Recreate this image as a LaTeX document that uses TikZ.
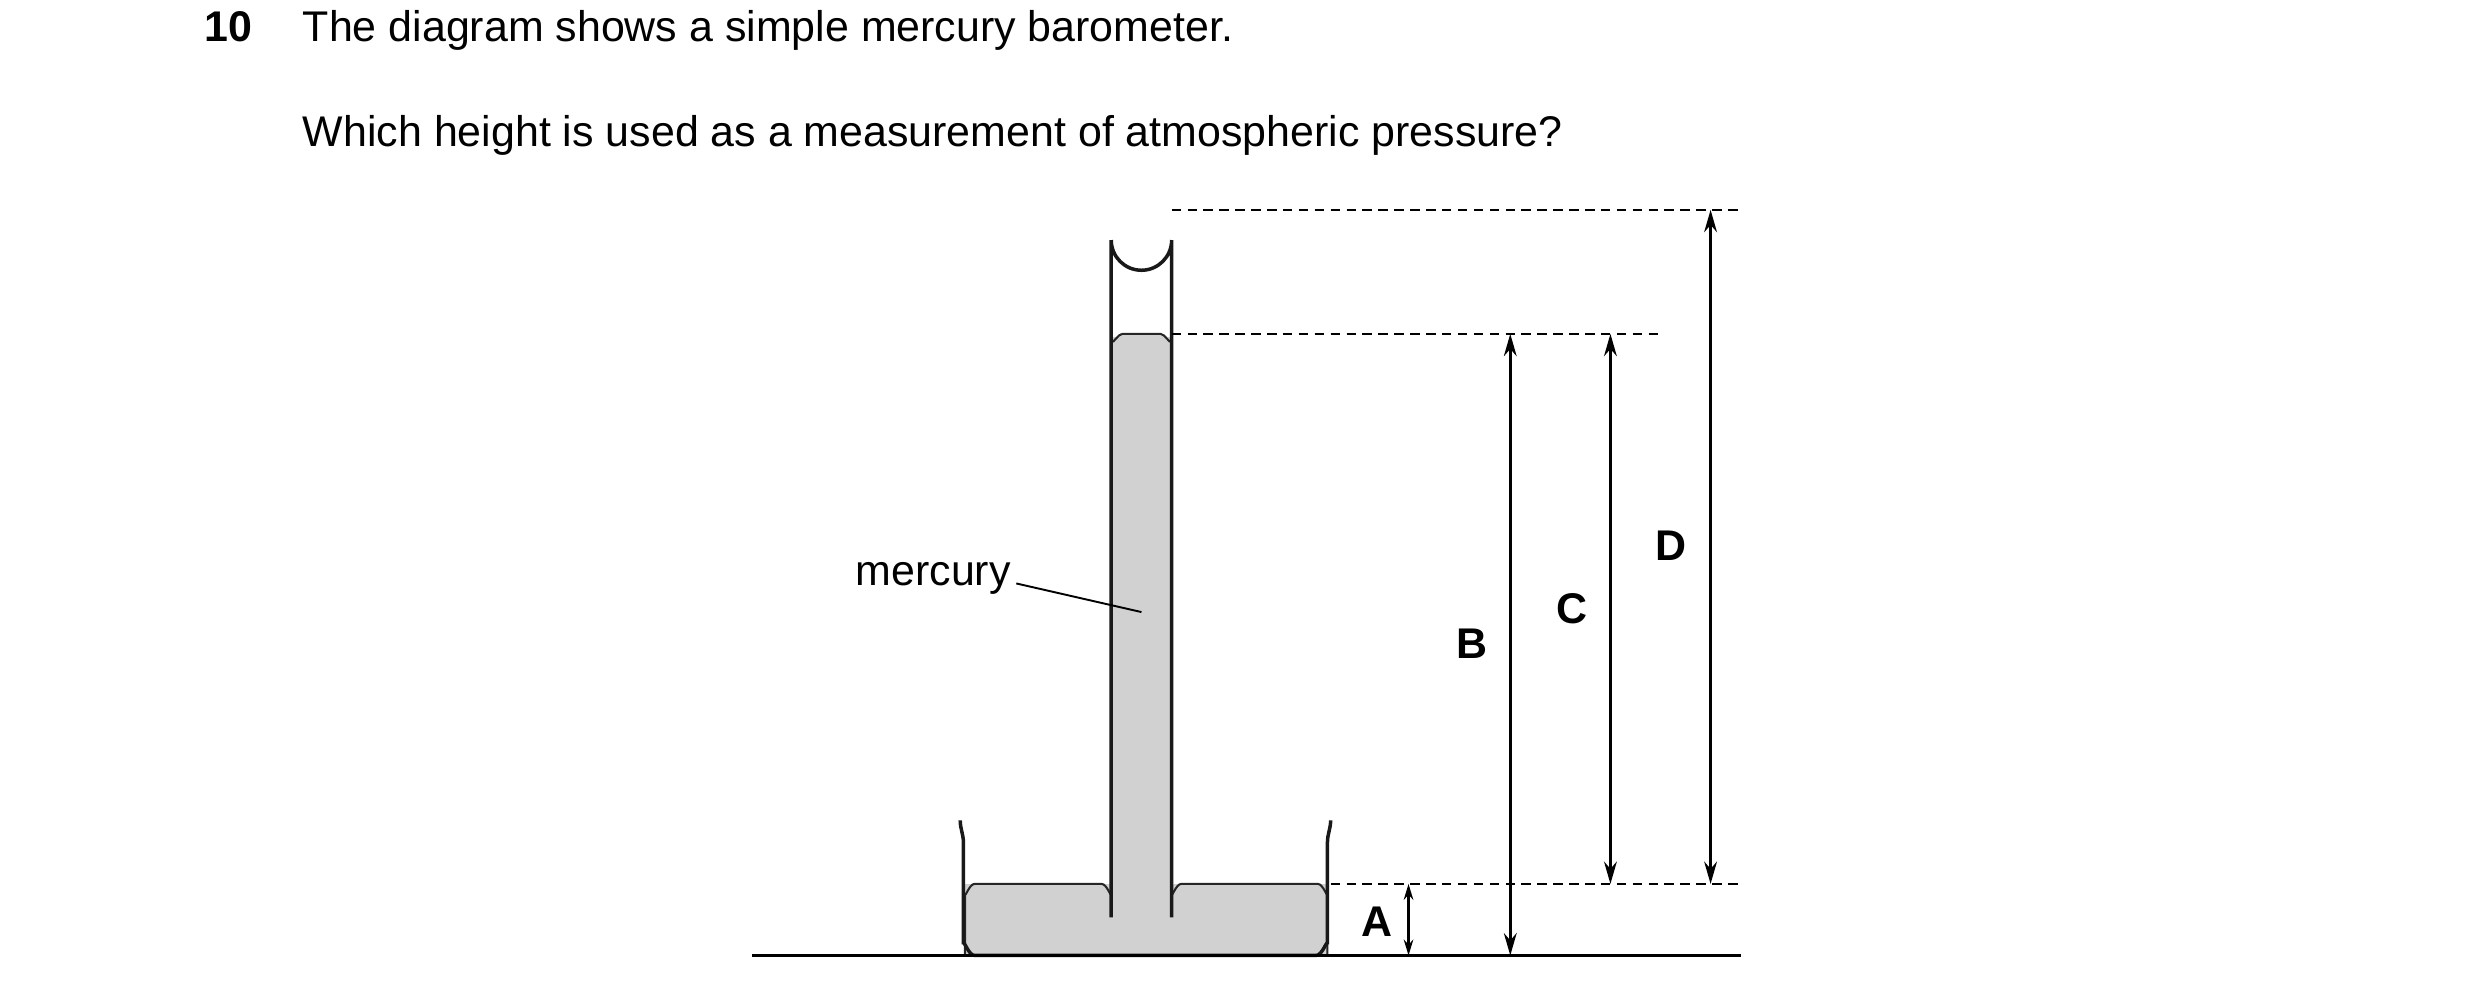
\documentclass[tikz,border=0pt]{standalone}
\usepackage{fontspec}
\setmainfont{Liberation Sans}
\usetikzlibrary{arrows.meta}
\begin{document}
\begin{tikzpicture}[x=1pt,y=-1pt,
  wall/.style={line width=2.2pt,black!90},
  dsh/.style={line width=1.1pt,dash pattern=on 6pt off 4pt},
  meas/.style={line width=2pt,{Stealth[length=14pt,width=8pt]}-{Stealth[length=14pt,width=8pt]}},
  hg/.style={fill=black!18,draw=black!85,line width=1.3pt},
  lbl/.style={font=\fontsize{27}{32}\selectfont\bfseries}]
\useasboundingbox (0,0) rectangle (1560,625);
\node[anchor=base west,font=\fontsize{27}{32}\selectfont] (t1) at (187,26) {The diagram shows a simple mercury barometer.};
\node[anchor=base east,font=\fontsize{27}{32}\selectfont\bfseries] (n) at (162,26) {10};
\node[anchor=base west,font=\fontsize{27}{32}\selectfont] (t2) at (187,92) {Which height is used as a measurement of atmospheric pressure?};
% mercury
\path[fill=black!18] (607,556) rectangle (835,601);
\path[fill=black!18] (700,212) rectangle (736,577);
\draw[hg] (607,601) -- (607,562) to[out=-90,in=180] (613,556) -- (693,556) to[out=0,in=-90] (699,562);
\draw[hg] (737,562) to[out=-90,in=180] (743,556) -- (829,556) to[out=0,in=-90] (835,562) -- (835,601);
\draw[hg] (700,214) to[out=-90,in=180] (706,210) -- (730,210) to[out=0,in=-90] (736,214);
% tube
\draw[wall] (699,577) -- (699,151) arc[start angle=180,end angle=0,radius=19] -- (737,577);
% dish
\draw[wall] (604,516) to[out=-90,in=90] (606,530) -- (606,594) to[out=90,in=180] (613,601) -- (828,601) to[out=0,in=90] (835,594) -- (835,530) to[out=90,in=-90] (837,516);
% ground
\coordinate (g1) at (473,601); \coordinate (g2) at (1095,601);
\draw[line width=2.2pt] (g1) -- (g2);
% dashed
\draw[dsh] (737,132) -- (1095,132);
\draw[dsh] (737,210) -- (1045,210);
\draw[dsh] (837,556) -- (1095,556);
% arrows
\coordinate (a1) at (886,556); \coordinate (a2) at (886,601);
\coordinate (b1) at (950,210); \coordinate (b2) at (950,601);
\coordinate (c1) at (1013,210); \coordinate (c2) at (1013,556);
\coordinate (d1) at (1076,132); \coordinate (d2) at (1076,556);
\draw[line width=1.6pt,{Stealth[length=10pt,width=6pt]}-{Stealth[length=10pt,width=6pt]}] (a1) -- (a2);
\draw[meas] (b1) -- (b2);
\draw[meas] (c1) -- (c2);
\draw[meas] (d1) -- (d2);
\node[lbl] (A) at (866,580) {A};
\node[lbl] (B) at (926,405) {B};
\node[lbl] (C) at (989,383) {C};
\node[lbl] (D) at (1051,343) {D};
\node[font=\fontsize{27}{32}\selectfont] (m) at (587,364) {mercury};
\coordinate (mp) at (718,385);
\draw[line width=1.2pt] (m.east) ++(0,3) -- (mp);
\end{tikzpicture}
\end{document}
